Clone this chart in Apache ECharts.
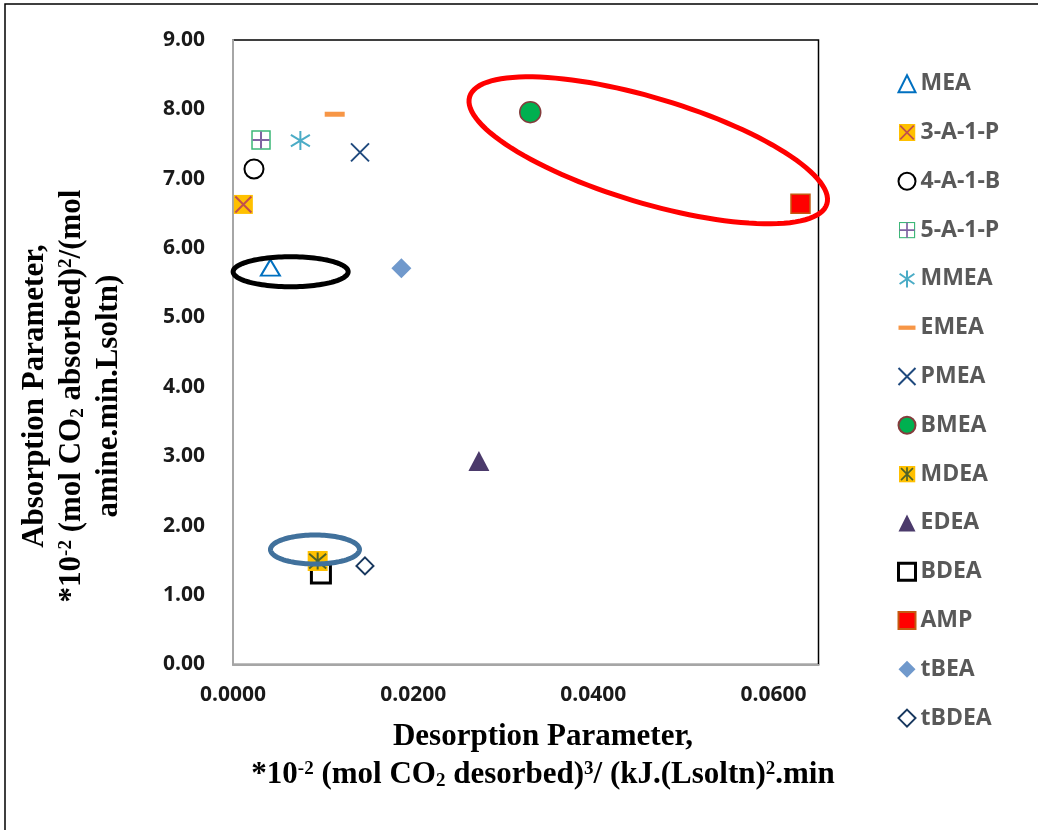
<!DOCTYPE html>
<html><head><meta charset="utf-8">
<script src="https://cdn.jsdelivr.net/npm/echarts@6/dist/echarts.min.js"></script>
<style>html,body{margin:0;padding:0;background:#fff}#c{width:1038px;height:830px}</style>
</head><body><div id="c"></div>
<script>
// ---------------- data ----------------
const amines = ['MEA','3-A-1-P','4-A-1-B','5-A-1-P','MMEA','EMEA','PMEA','BMEA','MDEA','EDEA','BDEA','AMP','tBEA','tBDEA'];
const desorptionParam = [0.00415,0.00115,0.00233,0.00311,0.00748,0.01129,0.0141,0.0330,0.0094,0.0273,0.00976,0.0630,0.01869,0.01465];
const absorptionParam = [5.72,6.63,7.14,7.56,7.55,7.93,7.38,7.96,1.49,2.93,1.31,6.64,5.71,1.42];
const highlightX = [0.0461, 0.0064, 0.0091];
const highlightY = [7.41, 5.66, 1.656];
const xRange = [0, 0.065], xStep = 0.02;
const yRange = [0, 9], yStep = 1;

// ---------------- styles ----------------
function svgIcon(inner){
  return 'image://data:image/svg+xml;charset=utf-8,' + encodeURIComponent(
    "<svg xmlns='http://www.w3.org/2000/svg' width='40' height='40' viewBox='0 0 20 20'>" + inner + "</svg>");
}
const markerStyle = {
  'MEA':     {symbol:'triangle', size:[19,16], color:'#fff', border:'#0070C0', bw:2},
  '3-A-1-P': {symbol:'rect', size:19, color:'#FFC000', border:'#FFC000', bw:0,
              overlay:{symbol:'path://M0 0L20 20M20 0L0 20', size:16, border:'#C0504D', bw:2},
              icon: svgIcon("<rect width='20' height='20' fill='#FFC000'/><path d='M2 2L18 18M18 2L2 18' stroke='#C0504D' stroke-width='2'/>")},
  '4-A-1-B': {symbol:'circle', size:19, color:'#fff', border:'#000', bw:2},
  '5-A-1-P': {symbol:'rect', size:18, color:'#fff', border:'#3CB878', bw:1.5,
              overlay:{symbol:'path://M10 0V20M0 10H20', size:17, border:'#8064A2', bw:2},
              icon: svgIcon("<rect x='1' y='1' width='18' height='18' fill='#fff' stroke='#3CB878' stroke-width='1.5'/><path d='M10 1V19M1 10H19' stroke='#8064A2' stroke-width='2'/>")},
  'MMEA':    {symbol:'path://M10 0V20M1.3 4L18.7 16M1.3 16L18.7 4', size:19, color:'rgba(0,0,0,0)', border:'#4BACC6', bw:2},
  'EMEA':    {symbol:'path://M0 0H20V5H0Z', size:[20,5], color:'#F79646', border:'#F79646', bw:0},
  'PMEA':    {symbol:'path://M0 0L20 20M20 0L0 20', size:18, color:'rgba(0,0,0,0)', border:'#1F497D', bw:2},
  'BMEA':    {symbol:'circle', size:21, color:'#00B050', border:'#843C3C', bw:1.5},
  'MDEA':    {symbol:'rect', size:20, color:'#FFC000', border:'#FFC000', bw:0, z:4,
              overlay:{symbol:'path://M10 0V20M1.3 1.3L18.7 18.7M18.7 1.3L1.3 18.7', size:17, border:'#4F6228', bw:2},
              icon: svgIcon("<rect width='20' height='20' fill='#FFC000'/><path d='M10 2V18M3 3L17 17M17 3L3 17' stroke='#4F6228' stroke-width='2'/>")},
  'EDEA':    {symbol:'triangle', size:[21,20], color:'#4B3A6B', border:'#4B3A6B', bw:0},
  'BDEA':    {symbol:'rect', size:19, color:'#fff', border:'#000', bw:3, legendBw:3},
  'AMP':     {symbol:'rect', size:19, color:'#FF0000', border:'#C55A11', bw:1.5},
  'tBEA':    {symbol:'diamond', size:20, color:'#7099CC', border:'#7099CC', bw:0},
  'tBDEA':   {symbol:'diamond', size:17, color:'#fff', border:'#17375E', bw:2}
};
const highlightStyle = [
  {color:'#FF0000', width:5, a:186.5, b:52.5, rot:16.7},
  {color:'#000000', width:5, a:57.5, b:15, rot:0},
  {color:'#41719C', width:5, a:44.5, b:14.5, rot:0}
];

// ---------------- series ----------------
const series = [];
const legendData = [];
amines.forEach((name, i) => {
  const s = markerStyle[name];
  const point = [[desorptionParam[i], absorptionParam[i]]];
  series.push({
    type:'scatter', name, data: point, symbol: s.symbol, symbolSize: s.size, z: s.z || 3,
    itemStyle:{color:s.color, borderColor:s.border, borderWidth:s.bw, opacity:1},
    emphasis:{disabled:true}
  });
  if (s.overlay) {
    series.push({
      type:'scatter', name: name + ' overlay', data: point, symbol: s.overlay.symbol, symbolSize: s.overlay.size, z: (s.z || 3) + 1,
      itemStyle:{color:'rgba(0,0,0,0)', borderColor:s.overlay.border, borderWidth:s.overlay.bw, opacity:1},
      emphasis:{disabled:true}
    });
  }
  const li = {name};
  if (s.icon) li.icon = s.icon;
  if (s.legendBw) li.itemStyle = {borderWidth: s.legendBw};
  legendData.push(li);
});
series.push({
  type:'custom', name:'highlights', coordinateSystem:'cartesian2d', clip:false, z:10, silent:true,
  data: highlightX.map((x, i) => [x, highlightY[i]]),
  renderItem(params, api){
    const c = api.coord([api.value(0), api.value(1)]);
    const h = highlightStyle[params.dataIndex];
    const th = h.rot * Math.PI / 180, ct = Math.cos(th), st = Math.sin(th);
    const pts = [];
    for (let k = 0; k < 120; k++) {
      const t = k / 120 * Math.PI * 2;
      const ex = h.a * Math.cos(t), ey = h.b * Math.sin(t);
      pts.push([c[0] + ex * ct - ey * st, c[1] + ex * st + ey * ct]);
    }
    return {type:'polygon', shape:{points:pts, smooth:0}, style:{fill:'none', stroke:h.color, lineWidth:h.width}};
  }
});

const serif = '"Liberation Serif","Times New Roman",serif';
const richSup = {
  sup:{fontSize:19, fontWeight:'bold', fontFamily:serif, verticalAlign:'top', fill:'#000', color:'#000'},
  sub:{fontSize:19, fontWeight:'bold', fontFamily:serif, verticalAlign:'bottom', fill:'#000', color:'#000'}
};
function titleText(text, x, y, rotation){
  return {
    type:'text', x, y, rotation: rotation || 0, z:20,
    style:{text, fontSize:31, fontWeight:'bold', fontFamily:serif, fill:'#000',
      textAlign:'center', textVerticalAlign:'middle', align:'center', verticalAlign:'middle', rich: richSup}
  };
}

const chart = echarts.init(document.getElementById('c'), null, {renderer:'canvas'});
chart.setOption({
  animation:false,
  backgroundColor:'#fff',
  grid:{left:233, right:219.5, top:40, bottom:165.6, show:true, borderColor:'#000', borderWidth:1.5, containLabel:false},
  xAxis:{
    type:'value', min:xRange[0], max:xRange[1], interval:xStep,
    axisLine:{show:true, onZero:false, lineStyle:{color:'#A6A6A6', width:2}},
    axisTick:{show:false}, splitLine:{show:false},
    axisLabel:{showMaxLabel:false, margin:20, formatter:v => v.toFixed(4),
      fontFamily:'"Open Sans"', fontWeight:'bold', fontSize:21, color:'#1a1a1a'}
  },
  yAxis:{
    type:'value', min:yRange[0], max:yRange[1], interval:yStep,
    axisLine:{show:true, onZero:false, lineStyle:{color:'#A6A6A6', width:2}},
    axisTick:{show:false}, splitLine:{show:false},
    axisLabel:{margin:28, formatter:v => v.toFixed(2),
      fontFamily:'"Open Sans"', fontWeight:'bold', fontSize:21, color:'#1a1a1a'}
  },
  legend:{
    show:true, orient:'vertical', left:897, top:72.2, padding:0, itemGap:25.8,
    itemWidth:17, itemHeight:17, itemTextGap:6, selectedMode:false,
    data: legendData,
    textStyle:{fontFamily:'"Open Sans"', fontWeight:'bold', fontSize:23, color:'#595959'}
  },
  graphic:[
    {type:'rect', shape:{x:5, y:4, width:1200, height:1000}, style:{fill:'none', stroke:'#000', lineWidth:1.5}, z:0, silent:true},
    titleText('Desorption Parameter,', 543, 737),
    titleText('*10{sup|-2} (mol CO{sub|2} desorbed){sup|3}/ (kJ.(Lsoltn){sup|2}.min', 543, 775),
    titleText('Absorption Parameter,', 35, 396, Math.PI/2),
    titleText('*10{sup|-2} (mol CO{sub|2} absorbed){sup|2}/(mol', 72, 396, Math.PI/2),
    titleText('amine.min.Lsoltn)', 109, 396, Math.PI/2)
  ],
  series
});
</script>
</body></html>
